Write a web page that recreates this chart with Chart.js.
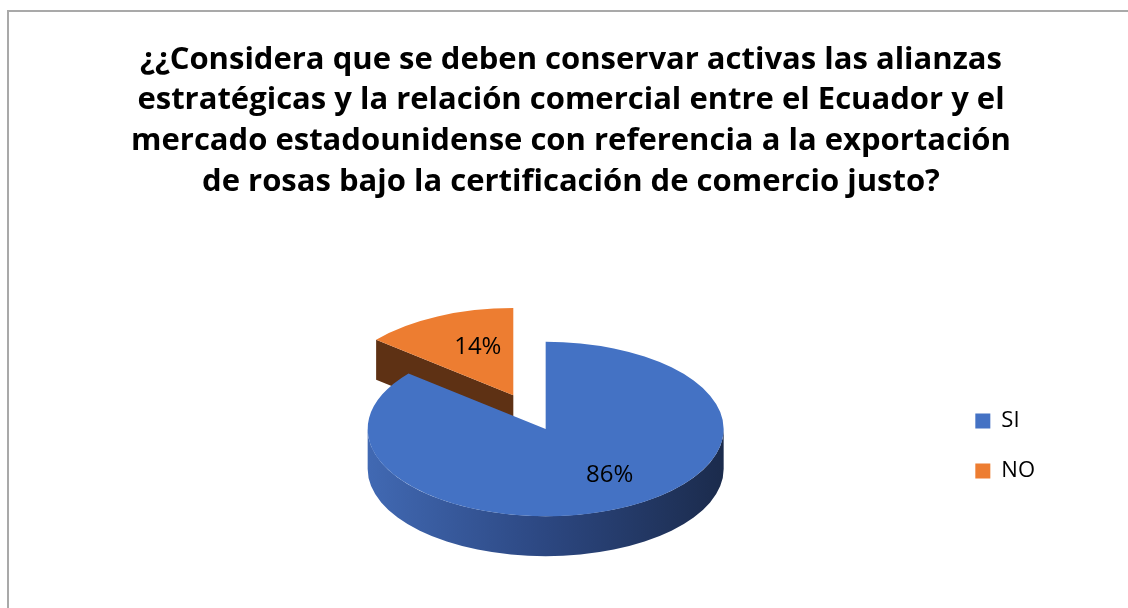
<!DOCTYPE html>
<html>
<head>
  <meta charset="utf-8">
  <script src="https://cdn.jsdelivr.net/npm/chart.js"></script>
  <style>
    body { margin: 0; background: #fff; overflow: hidden; }
    .frame { position: absolute; left: 7px; top: 10px; width: 1200px; height: 700px; border: 2px solid #a9a9a9; }
    .chart-box { position: absolute; left: 97px; top: 12px; width: 948px; height: 596px; }
  </style>
</head>
<body>
  <div class="frame"></div>
  <div class="chart-box">
    <canvas id="myPieChart"></canvas>
  </div>
<script>
"use strict";
// data
const categories = ['SI', 'NO'];
const percentages = [86, 14];
const titleLines = [
  '¿¿Considera que se deben conservar activas las alianzas',
  'estratégicas y la relación comercial entre el Ecuador y el',
  'mercado estadounidense con referencia a la exportación',
  'de rosas bajo la certificación de comercio justo?'
];

// look of the 3d pie
const topColors = ['#4472c4', '#ed7d31'];
const sideColors = [['#4169b3', '#2c4781', '#1b2b4c'], ['#5e3114', '#5e3114', '#5e3114']];
const explode = [0, 76];   // px the slice is pulled out
const tilt = 0.49;         // vertical squash of the disc
const depth = 40;          // thickness of the disc, screen px
const shiftX = 23.5, shiftY = -17;
const labelRadius = [0.66, 0.64];
const labelNudge = [[14, -6], [13, 2]];

let pieChart = null;

// maps chart coords to the tilted view
const project = function(chart, x, y) {
  const a = chart.chartArea;
  const cy = (a.top + a.bottom) / 2;
  return { x: x + shiftX, y: cy + shiftY + (y - cy) * tilt };
};

const pie3d = {
  id: 'pie3d',
  afterDatasetUpdate(chart, args) {
    args.meta.data.forEach((el, i) => {
      const d = explode[i] || 0;
      if (!d) return;
      const mid = (el.startAngle + el.endAngle) / 2;
      el.x += Math.cos(mid) * d;
      el.y += Math.sin(mid) * d;
    });
  },
  beforeDatasetsDraw(chart) {
    const ctx = chart.ctx;
    const a = chart.chartArea;
    const cy = (a.top + a.bottom) / 2;
    ctx.save();
    ctx.translate(shiftX, cy + shiftY);
    ctx.scale(1, tilt);
    ctx.translate(0, -cy);
    const h = depth / tilt;
    const arcs = chart.getDatasetMeta(0).data;
    // back slices first
    const order = arcs.map((el, i) => i).sort((p, q) => {
      const mp = Math.sin((arcs[p].startAngle + arcs[p].endAngle) / 2) * explode[p];
      const mq = Math.sin((arcs[q].startAngle + arcs[q].endAngle) / 2) * explode[q];
      return mp - mq;
    });
    order.forEach((i) => {
      const el = arcs[i];
      const {x, y, startAngle: s, endAngle: e, outerRadius: r} = el;
      const grad = ctx.createLinearGradient(x - r, 0, x + r, 0);
      grad.addColorStop(0, sideColors[i][0]);
      grad.addColorStop(0.5, sideColors[i][1]);
      grad.addColorStop(1, sideColors[i][2]);
      ctx.fillStyle = grad;
      // cut faces
      [[s, Math.cos(s) < 0], [e, Math.cos(e) > 0]].forEach(([ang, show]) => {
        if (!show) return;
        const ex = x + Math.cos(ang) * r, ey = y + Math.sin(ang) * r;
        ctx.beginPath();
        ctx.moveTo(x, y);
        ctx.lineTo(ex, ey);
        ctx.lineTo(ex, ey + h);
        ctx.lineTo(x, y + h);
        ctx.closePath();
        ctx.fill();
      });
      // outer wall, front half only
      [-2 * Math.PI, 0, 2 * Math.PI].forEach((o) => {
        const lo = Math.max(s, o), hi = Math.min(e, o + Math.PI);
        if (hi <= lo) return;
        ctx.beginPath();
        ctx.arc(x, y, r, lo, hi);
        ctx.arc(x, y + h, r, hi, lo, true);
        ctx.closePath();
        ctx.fill();
      });
    });
  },
  afterDatasetsDraw(chart) {
    const ctx = chart.ctx;
    ctx.restore();
    ctx.save();
    ctx.font = '24px "Open Sans"';
    ctx.fillStyle = '#000';
    ctx.textAlign = 'center';
    ctx.textBaseline = 'middle';
    chart.getDatasetMeta(0).data.forEach((el, i) => {
      const mid = (el.startAngle + el.endAngle) / 2;
      const rr = el.outerRadius * labelRadius[i];
      const p = project(chart, el.x + Math.cos(mid) * rr, el.y + Math.sin(mid) * rr);
      ctx.fillText(percentages[i] + '%', p.x + labelNudge[i][0], p.y + labelNudge[i][1]);
    });
    ctx.restore();
  }
};

pieChart = new Chart(document.getElementById('myPieChart'), {
  type: 'pie',
  data: {
    labels: categories,
    datasets: [{
      data: percentages,
      backgroundColor: topColors,
      borderWidth: 0,
      clip: false
    }]
  },
  options: {
    responsive: true,
    maintainAspectRatio: false,
    animation: false,
    events: [],
    radius: 178,
    plugins: {
      tooltip: { enabled: false },
      title: {
        display: true,
        text: titleLines,
        color: '#000',
        font: { family: 'Open Sans', size: 31, weight: 'bold', lineHeight: 1.313 },
        padding: { top: 27.6, bottom: 81.6 }
      },
      legend: {
        position: 'right',
        fullSize: false,
        labels: {
          color: '#000',
          font: { family: 'Open Sans', size: 22 },
          boxWidth: 15,
          boxHeight: 15,
          padding: 28
        }
      }
    }
  },
  plugins: [pie3d]
});
</script>
</body>
</html>
